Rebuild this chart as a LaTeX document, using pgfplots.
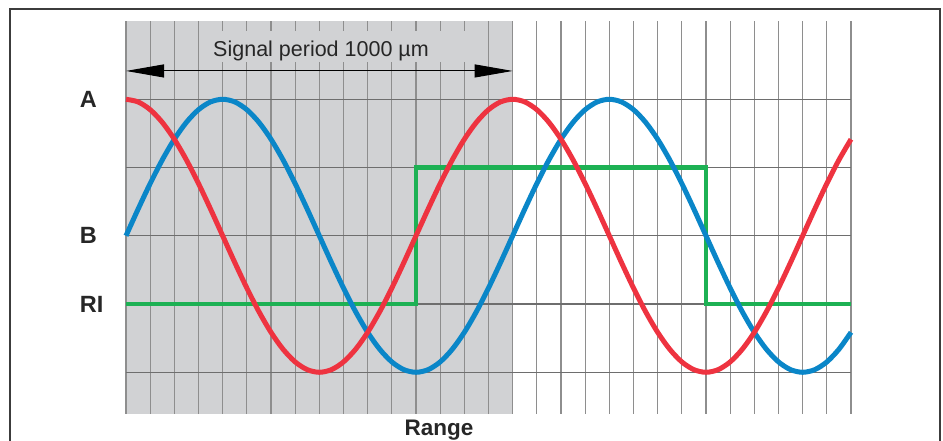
\documentclass[border=0pt]{standalone}
\usepackage{pgfplots}
\pgfplotsset{compat=1.18}
\usepackage{fontspec}
\setmainfont{Liberation Sans}
\usetikzlibrary{arrows.meta}
\definecolor{sigred}{HTML}{EE3340}
\definecolor{sigblue}{HTML}{0A86C8}
\definecolor{siggreen}{HTML}{1DB154}
\definecolor{shade}{HTML}{D1D2D4}
\definecolor{vgrid}{HTML}{8E8E8E}
\definecolor{hgrid}{HTML}{6E6E6E}
\definecolor{framegray}{HTML}{3C3C3C}
\begin{document}
\begin{tikzpicture}[x=1pt,y=1pt]
\draw[framegray, line width=1.3pt] (10,-10) -- (10,432) -- (940,432) -- (940,-10);
\begin{axis}[at={(126pt,27pt)}, anchor=south west,
  width=725pt, height=393pt, scale only axis,
  xmin=0, xmax=30, ymin=-2.611, ymax=3.147,
  xtick={0,...,30}, ytick={-2,...,2},
  xticklabels={}, yticklabels={}, major tick length=0pt,
  axis line style={draw=none},
  grid=major,
  x grid style={vgrid, line width=1.1pt},
  y grid style={hgrid, line width=1.1pt},
  set layers, clip=false]
% shaded first period
\addplot[on layer=axis background, fill=shade, draw=none]
  coordinates {(0,-2.611) (16,-2.611) (16,3.147) (0,3.147)};
% background patch behind the caption
\addplot[fill=shade, draw=none]
  coordinates {(3.27,2.547) (14.23,2.547) (14.23,3.0) (3.27,3.0)};
\node[font=\fontsize{21.5}{26}\selectfont, anchor=base, text=black!85] at (axis cs:8.07,2.634) {Signal period 1000 µm};
\draw[line width=1pt, {Triangle[length=38pt,width=13pt]}-{Triangle[length=38pt,width=13pt]}]
  (axis cs:0,2.415) -- (axis cs:16,2.415);
% reference index
\addplot[siggreen, line width=4.5pt, line join=miter] coordinates {
  (0,-1) (12,-1) (12,1) (24,1) (24,-1) (30,-1)};
% B signal
\addplot[sigblue, line width=5pt, smooth] coordinates {
  (0,0) (0.5,0.3902) (1,0.7654) (1.5,1.1111) (2,1.4142) (2.5,1.6629) (3,1.8478) (3.5,1.9616)
  (4,2) (4.5,1.9616) (5,1.8478) (5.5,1.6629) (6,1.4142) (6.5,1.1111) (7,0.7654) (7.5,0.3902)
  (8,0) (8.5,-0.3902) (9,-0.7654) (9.5,-1.1111) (10,-1.4142) (10.5,-1.6629) (11,-1.8478) (11.5,-1.9616)
  (12,-2) (12.5,-1.9616) (13,-1.8478) (13.5,-1.6629) (14,-1.4142) (14.5,-1.1111) (15,-0.7654) (15.5,-0.3902)
  (16,0) (16.5,0.3902) (17,0.7654) (17.5,1.1111) (18,1.4142) (18.5,1.6629) (19,1.8478) (19.5,1.9616)
  (20,2) (20.5,1.9616) (21,1.8478) (21.5,1.6629) (22,1.4142) (22.5,1.1111) (23,0.7654) (23.5,0.3902)
  (24,0) (24.5,-0.3902) (25,-0.7654) (25.5,-1.1111) (26,-1.4142) (26.5,-1.6629) (27,-1.8478) (27.5,-1.9616)
  (28,-2) (28.5,-1.9616) (29,-1.8478) (29.5,-1.6629) (30,-1.4142)};
% A signal
\addplot[sigred, line width=5pt, smooth] coordinates {
  (0,2) (0.5,1.9616) (1,1.8478) (1.5,1.6629) (2,1.4142) (2.5,1.1111) (3,0.7654) (3.5,0.3902)
  (4,0) (4.5,-0.3902) (5,-0.7654) (5.5,-1.1111) (6,-1.4142) (6.5,-1.6629) (7,-1.8478) (7.5,-1.9616)
  (8,-2) (8.5,-1.9616) (9,-1.8478) (9.5,-1.6629) (10,-1.4142) (10.5,-1.1111) (11,-0.7654) (11.5,-0.3902)
  (12,0) (12.5,0.3902) (13,0.7654) (13.5,1.1111) (14,1.4142) (14.5,1.6629) (15,1.8478) (15.5,1.9616)
  (16,2) (16.5,1.9616) (17,1.8478) (17.5,1.6629) (18,1.4142) (18.5,1.1111) (19,0.7654) (19.5,0.3902)
  (20,0) (20.5,-0.3902) (21,-0.7654) (21.5,-1.1111) (22,-1.4142) (22.5,-1.6629) (23,-1.8478) (23.5,-1.9616)
  (24,-2) (24.5,-1.9616) (25,-1.8478) (25.5,-1.6629) (26,-1.4142) (26.5,-1.1111) (27,-0.7654) (27.5,-0.3902)
  (28,0) (28.5,0.3902) (29,0.7654) (29.5,1.1111) (30,1.4142)};
\node[font=\fontsize{23.5}{28}\selectfont\bfseries, anchor=west, text=black!85] at (axis cs:-2.05,2) {A};
\node[font=\fontsize{23.5}{28}\selectfont\bfseries, anchor=west, text=black!85] at (axis cs:-2.05,0) {B};
\node[font=\fontsize{23.5}{28}\selectfont\bfseries, anchor=west, text=black!85] at (axis cs:-2.05,-1) {RI};
\end{axis}
\node[font=\fontsize{22.5}{27}\selectfont\bfseries, anchor=base, text=black!85] at (439,5) {Range};
\pgfresetboundingbox
\useasboundingbox (0,0) rectangle (943,441);
\end{tikzpicture}
\end{document}
